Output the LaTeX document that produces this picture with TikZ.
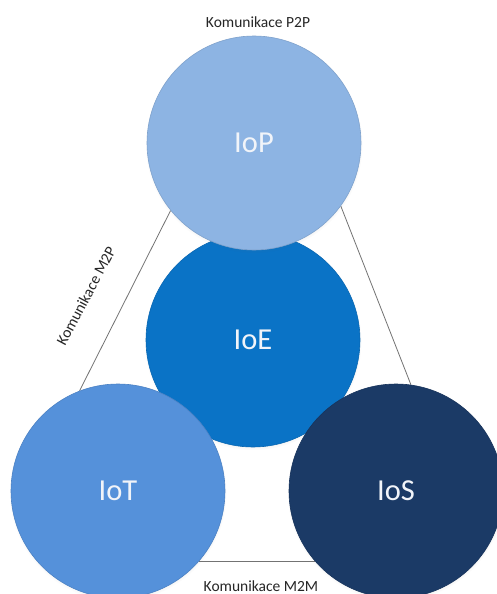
\documentclass[tikz,border=0pt]{standalone}
\usepackage{fontspec}
\setmainfont{Carlito}
\usetikzlibrary{backgrounds,shadows}
\definecolor{cIoP}{HTML}{8DB4E3}
\definecolor{cIoE}{HTML}{0A73C6}
\definecolor{cIoT}{HTML}{5591DA}
\definecolor{cIoS}{HTML}{1B3A66}
\definecolor{lbl}{HTML}{F1F4F9}
\tikzset{
  bubble/.style={circle, inner sep=0pt, minimum size=214pt, text=lbl, font=\fontsize{30.5}{33}\selectfont,
     line width=0.6pt,
     circular drop shadow={shadow xshift=0pt, shadow yshift=-1.5pt, shadow scale=1.015, opacity=0.25, fill=black!60}},
  link/.style={draw=black!55, line width=0.8pt},
  captxt/.style={font=\fontsize{15.5}{17}\selectfont, text=black!85, inner sep=0pt}
}
\begin{document}
\begin{tikzpicture}[x=1pt,y=-1pt]
\useasboundingbox (0,0) rectangle (496,594);
\node[bubble, fill=cIoE, draw=cIoE!90!black] (IoE) at (253,340) {IoE};
\node[bubble, fill=cIoP, draw=cIoP!90!black] (IoP) at (254,143) {IoP};
\node[bubble, fill=cIoT, draw=cIoT!90!black] (IoT) at (118,491) {IoT};
\node[bubble, fill=cIoS, draw=cIoS!90!black] (IoS) at (396,491) {IoS};
\begin{pgfonlayer}{background}
\fill[white] (0,0) rectangle (496,594);
\draw[link] (IoP.219) -- (IoT.111);
\draw[link] (IoP.-36) -- (IoS.82);
\draw[link] (IoT.-41.6) -- (IoS.221.6);
\end{pgfonlayer}
\node[captxt] (p2p) at (258,22) {Komunikace P2P};
\node[captxt, rotate=62] (m2p) at (86,296) {Komunikace M2P};
\node[captxt] (m2m) at (261,586) {Komunikace M2M};
\end{tikzpicture}
\end{document}
